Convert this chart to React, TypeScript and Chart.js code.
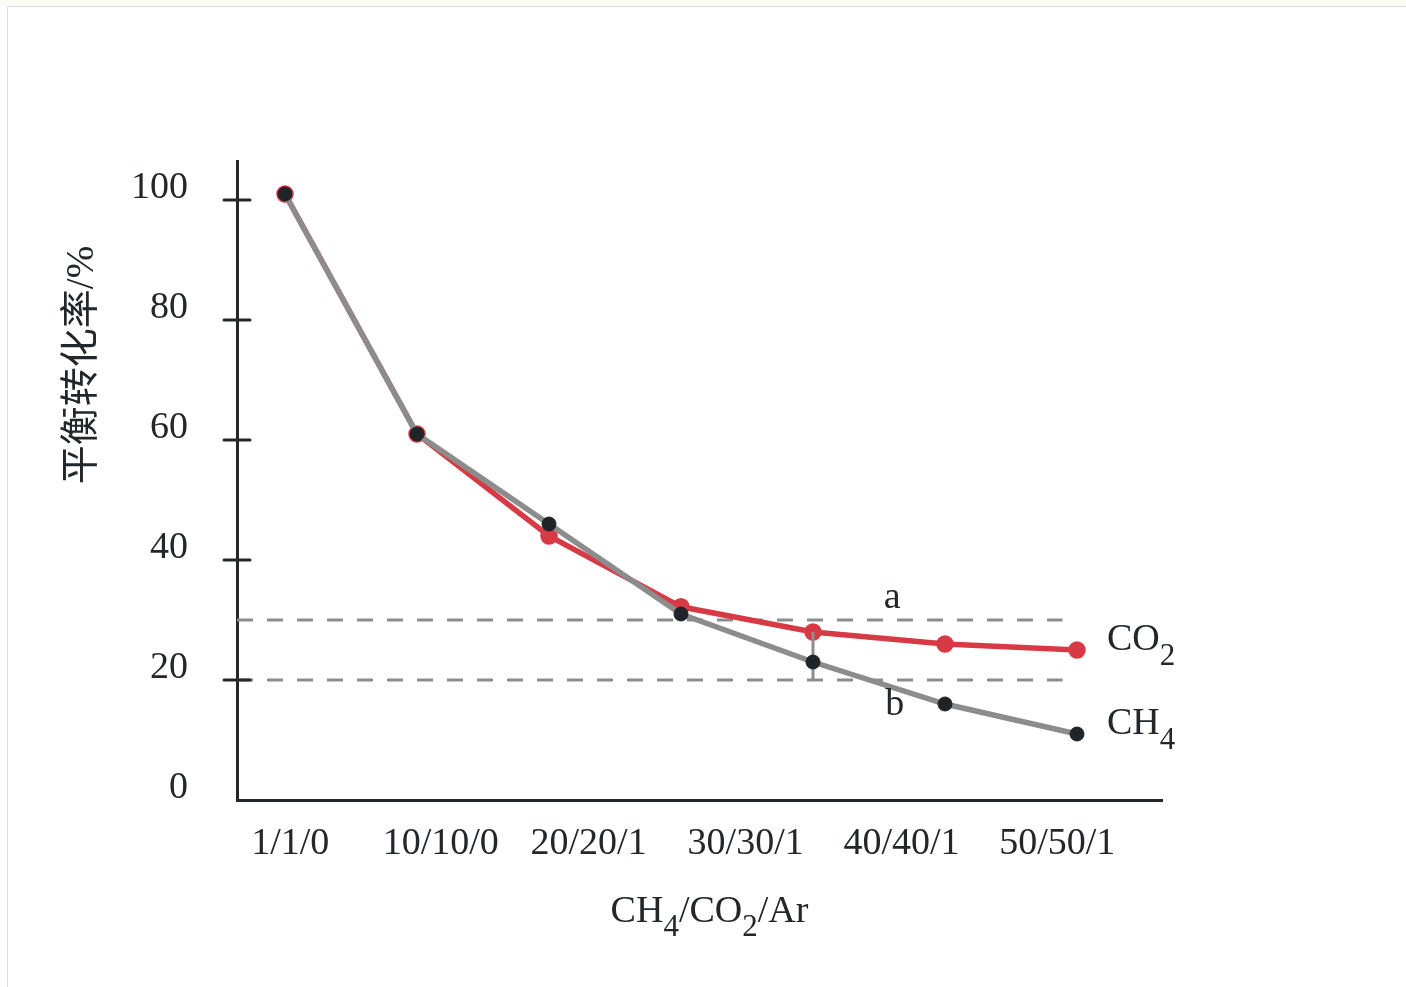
import React, { useEffect, useRef } from 'react';
import { Chart, registerables } from 'chart.js';

Chart.register(...registerables);

// ---- data ----
const CATEGORIES = ['1/1/0', '10/10/0', '20/20/1', '30/30/1', '40/40/1', '50/50/1'];
const CATEGORY_TICK_POS = [0.04, 1.18, 2.3, 3.49, 4.67, 5.85];
const POINT_X = [0, 1, 2, 3, 4, 5, 6];
const CO2_VALUES = [101, 61, 44, 32.2, 28, 26, 25];
const CH4_VALUES = [101, 61, 46, 31, 23, 16, 11];
const Y_TICKS = [0, 20, 40, 60, 80, 100];
const REF_A = 30;
const REF_B = 20;
const REF_END_X = 5.89;
const MARK_INDEX = 4;

const X_MIN = -0.3636;
const X_MAX = 6.644;
const Y_MIN = 0;
const Y_MAX = 106.5;

const AXIS_COLOR = '#22272b';
const TEXT_COLOR = '#22272b';
const RED = '#d83a45';
const GRAY = '#8c8c8c';
const DARK = '#1f2428';
const SERIF = "'Liberation Serif', 'Times New Roman', serif";

type Part = { t: string; sub?: boolean };

function drawParts(ctx: CanvasRenderingContext2D, parts: Part[], x: number, y: number, align: 'left' | 'center', size: number, subSize: number, subDrop: number) {
  ctx.save();
  ctx.fillStyle = TEXT_COLOR;
  ctx.textBaseline = 'alphabetic';
  ctx.textAlign = 'left';
  let total = 0;
  for (const p of parts) {
    ctx.font = `${p.sub ? subSize : size}px ${SERIF}`;
    total += ctx.measureText(p.t).width;
  }
  let cx = align === 'center' ? x - total / 2 : x;
  for (const p of parts) {
    ctx.font = `${p.sub ? subSize : size}px ${SERIF}`;
    ctx.fillText(p.t, cx, p.sub ? y + subDrop : y);
    cx += ctx.measureText(p.t).width;
  }
  ctx.restore();
}

const decorPlugin = {
  id: 'decor',
  afterDraw(chart: any) {
    const { ctx } = chart;
    const xs = chart.scales.x;
    const ys = chart.scales.y;
    const axisX = xs.left;

    // y tick marks crossing the axis
    ctx.save();
    ctx.strokeStyle = AXIS_COLOR;
    ctx.lineWidth = 3;
    ctx.lineCap = 'round';
    for (const v of Y_TICKS) {
      if (v === 0) continue;
      const py = ys.getPixelForValue(v);
      ctx.beginPath();
      ctx.moveTo(axisX - 13, py);
      ctx.lineTo(axisX + 13, py);
      ctx.stroke();
    }
    ctx.restore();

    // y title
    ctx.save();
    ctx.translate(83, 365);
    ctx.rotate(-Math.PI / 2);
    ctx.fillStyle = TEXT_COLOR;
    ctx.font = `39px 'Liberation Serif', 'Noto Sans CJK SC', serif`;
    ctx.textAlign = 'center';
    ctx.textBaseline = 'middle';
    ctx.fillText('平衡转化率/%', 0, 0);
    ctx.restore();

    // x title
    const cxTitle = (xs.left + xs.right) / 2 + 10;
    drawParts(ctx, [{ t: 'CH' }, { t: '4', sub: true }, { t: '/CO' }, { t: '2', sub: true }, { t: '/Ar' }], cxTitle, 922, 'center', 38, 31, 14);

    // series labels
    const lastIdx = POINT_X.length - 1;
    const lx = xs.getPixelForValue(POINT_X[lastIdx]) + 30;
    drawParts(ctx, [{ t: 'CO' }, { t: '2', sub: true }], lx, ys.getPixelForValue(CO2_VALUES[lastIdx]), 'left', 38, 31, 15);
    drawParts(ctx, [{ t: 'CH' }, { t: '4', sub: true }], lx, ys.getPixelForValue(CH4_VALUES[lastIdx]), 'left', 38, 31, 15);

    // a / b labels
    drawParts(ctx, [{ t: 'a' }], xs.getPixelForValue(4.6), ys.getPixelForValue(REF_A) - 12, 'center', 38, 31, 0);
    drawParts(ctx, [{ t: 'b' }], xs.getPixelForValue(4.62), ys.getPixelForValue(REF_B) + 35, 'center', 38, 31, 0);
  },
};

export default function App() {
  const ref = useRef<HTMLCanvasElement | null>(null);

  useEffect(() => {
    if (!ref.current) return;
    const chart = new Chart(ref.current, {
      type: 'line',
      data: {
        datasets: [
          {
            label: 'CH4',
            data: POINT_X.map((x, i) => ({ x, y: CH4_VALUES[i] })),
            borderColor: GRAY,
            borderWidth: 5.5,
            pointRadius: 7,
            pointBackgroundColor: DARK,
            pointBorderColor: DARK,
            pointBorderWidth: 1,
            order: 0,
          },
          {
            label: 'mark',
            data: [
              { x: POINT_X[MARK_INDEX], y: CO2_VALUES[MARK_INDEX] },
              { x: POINT_X[MARK_INDEX], y: REF_B },
            ],
            borderColor: GRAY,
            borderWidth: 3,
            pointRadius: 0,
            order: 1,
          },
          {
            label: 'CO2',
            data: POINT_X.map((x, i) => ({ x, y: CO2_VALUES[i] })),
            borderColor: RED,
            borderWidth: 5.5,
            pointRadius: 8,
            pointBackgroundColor: RED,
            pointBorderColor: RED,
            pointBorderWidth: 1.5,
            order: 2,
          },
          {
            label: 'refA',
            data: [
              { x: X_MIN, y: REF_A },
              { x: REF_END_X, y: REF_A },
            ],
            borderColor: GRAY,
            borderWidth: 3,
            borderDash: [16, 14],
            pointRadius: 0,
            order: 3,
          },
          {
            label: 'refB',
            data: [
              { x: X_MIN, y: REF_B },
              { x: REF_END_X, y: REF_B },
            ],
            borderColor: GRAY,
            borderWidth: 3,
            borderDash: [16, 14],
            pointRadius: 0,
            order: 3,
          },
        ],
      },
      options: {
        animation: false,
        responsive: false,
        devicePixelRatio: 1,
        layout: { padding: { left: 0, top: 161, right: 244, bottom: 0 } },
        plugins: { legend: { display: false }, tooltip: { enabled: false } },
        elements: { line: { tension: 0 } },
        scales: {
          x: {
            type: 'linear',
            min: X_MIN,
            max: X_MAX,
            grid: { display: false, drawTicks: false },
            border: { display: true, color: AXIS_COLOR, width: 3 },
            afterBuildTicks: (scale: any) => {
              scale.ticks = CATEGORY_TICK_POS.map((v) => ({ value: v }));
            },
            afterFit: (scale: any) => {
              scale.height = 187;
            },
            ticks: {
              autoSkip: false,
              maxRotation: 0,
              padding: 21,
              color: TEXT_COLOR,
              font: { family: SERIF, size: 38 },
              callback: (_v: any, i: number) => CATEGORIES[i],
            },
          },
          y: {
            type: 'linear',
            min: Y_MIN,
            max: Y_MAX,
            grid: { display: false, drawTicks: false },
            border: { display: true, color: AXIS_COLOR, width: 3 },
            afterBuildTicks: (scale: any) => {
              scale.ticks = Y_TICKS.map((v) => ({ value: v }));
            },
            afterFit: (scale: any) => {
              scale.width = 237;
            },
            ticks: {
              padding: 49,
              labelOffset: -12,
              color: TEXT_COLOR,
              font: { family: SERIF, size: 38 },
              callback: (v: any) => String(v),
            },
          },
        },
      },
      plugins: [decorPlugin],
    } as any);
    return () => chart.destroy();
  }, []);

  return (
    <div style={{ position: 'fixed', left: 0, top: 0, width: 1406, height: 987, background: '#ffffff', overflow: 'hidden' }}>
      <div style={{ position: 'absolute', left: 0, top: 0, width: 1406, height: 6, background: '#fdfbf6' }} />
      <div style={{ position: 'absolute', left: 7, top: 6, width: 1410, height: 995, border: '1px solid #d3e3d9', boxSizing: 'border-box' }} />
      <canvas ref={ref} width={1406} height={987} style={{ position: 'absolute', left: 0, top: 0, width: 1406, height: 987 }} />
    </div>
  );
}
